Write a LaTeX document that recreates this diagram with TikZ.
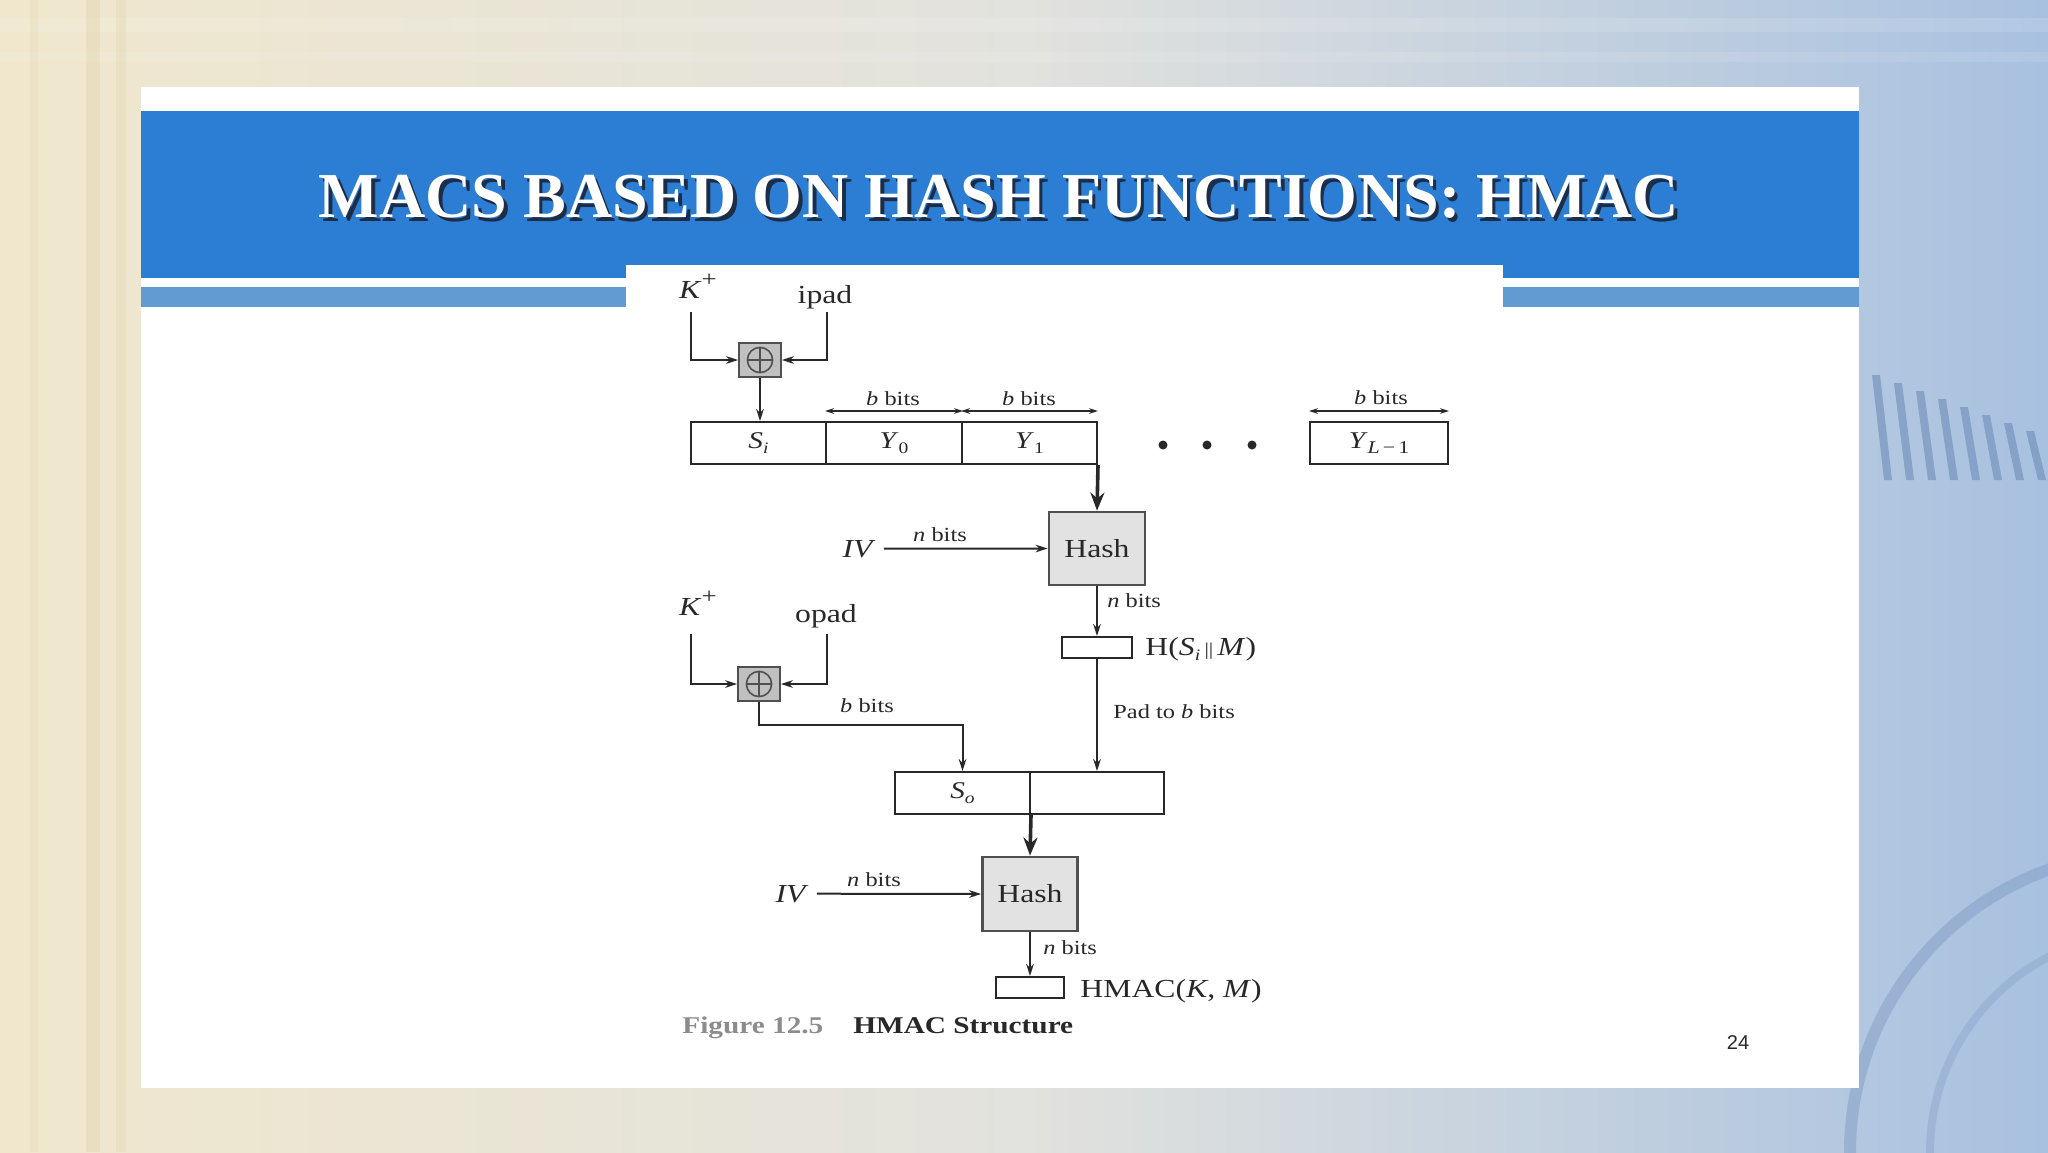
\documentclass[tikz,border=0pt]{standalone}
\usepackage{fontspec}
\setmainfont{Liberation Serif}
\newfontfamily\df{Liberation Serif}[FakeStretch=1.22]
\newfontfamily\sansf{Liberation Sans}
\usetikzlibrary{arrows.meta,calc}
\definecolor{bgL}{RGB}{240,231,205}
\definecolor{bgM}{RGB}{226,226,222}
\definecolor{bgR}{RGB}{168,193,224}
\definecolor{bandblue}{RGB}{43,126,212}
\definecolor{stripeblue}{RGB}{98,154,210}
\definecolor{ink}{RGB}{40,40,40}
\definecolor{hashfill}{RGB}{226,226,226}
\definecolor{hashline}{RGB}{80,80,80}
\definecolor{xorfill}{RGB}{192,192,192}
\definecolor{figgray}{RGB}{140,140,140}
\definecolor{shadowc}{RGB}{30,45,70}
\definecolor{decobeige}{RGB}{222,205,160}
\definecolor{decoblue}{RGB}{110,140,185}
\newcommand\lowtxt[2]{\raisebox{-0.22em}{\fontsize{#1}{#1}\selectfont #2}}
\newcommand\hightxt[2]{\raisebox{0.45em}{\fontsize{#1}{#1}\selectfont #2}}
\begin{document}
\begin{tikzpicture}[x=0.5pt,y=-0.5pt,
  cell/.style={draw=ink, line width=1pt, minimum height=21pt, inner sep=0pt, text=ink, font=\df\fontsize{12}{12}\selectfont},
  hashbox/.style={draw=hashline, fill=hashfill, line width=1.4pt, inner sep=0pt, text=ink, font=\df\fontsize{13}{13}\selectfont},
  xorbox/.style={draw=hashline, fill=xorfill, line width=0.9pt, minimum width=21pt, minimum height=17pt, inner sep=0pt},
  outbox/.style={draw=ink, line width=1pt, minimum height=10.5pt, inner sep=0pt},
  lbl/.style={text=ink, inner sep=0pt, font=\df\fontsize{13}{13}\selectfont},
  smalllbl/.style={text=ink, inner sep=0pt, font=\df\fontsize{10}{10}\selectfont},
  conn/.style={draw=ink, line width=1pt, -{Stealth[length=6pt,width=3.8pt]}},
  thickconn/.style={draw=ink, line width=1.8pt, -{Stealth[length=9pt,width=7pt]}},
  dimline/.style={draw=ink, line width=0.7pt, {Stealth[length=4.5pt,width=2.8pt]}-{Stealth[length=4.5pt,width=2.8pt]}},
  dotnode/.style={circle, fill=ink, minimum size=4.5pt, inner sep=0pt}
]
\useasboundingbox (0,0) rectangle (2048,1152);
% ---------- background ----------
\shade[left color=bgL, right color=bgR, middle color=bgM] (0,0) rectangle (2048,1152);
\fill[white, opacity=0.12] (0,18) rectangle (2048,32);
\fill[white, opacity=0.1] (0,52) rectangle (2048,62);
\fill[decobeige, opacity=0.3] (86,0) rectangle (100,1152);
\fill[decobeige, opacity=0.25] (116,0) rectangle (126,1152);
\fill[decobeige, opacity=0.2] (30,0) rectangle (38,1152);
\foreach \i in {0,...,7} {
  \fill[decoblue, opacity=0.6] (1872+22*\i,375+8*\i) -- (1880+22*\i,375+8*\i) -- (1892+22*\i,480) -- (1884+22*\i,480) -- cycle;
}
\draw[decoblue, opacity=0.35, line width=6pt] (2150,1152) circle[radius=300];
\draw[decoblue, opacity=0.25, line width=4pt] (2150,1152) circle[radius=220];
% ---------- slide panel ----------
\fill[white] (141,87) rectangle (1859,1088);
\fill[bandblue] (141,111) rectangle (1859,278);
\fill[stripeblue] (141,287) rectangle (1859,307);
\fill[white] (626,265) rectangle (1503,320);
% title
\node[text=shadowc, font=\bfseries\fontsize{32}{32}\selectfont] at (1002.5,200.5) {MACS BASED ON HASH FUNCTIONS: HMAC};
\node[text=white, font=\bfseries\fontsize{32}{32}\selectfont] (title) at (999,197) {MACS BASED ON HASH FUNCTIONS: HMAC};
% ---------- inner part ----------
\node[lbl, anchor=base] (kp1) at (698,298) {\textit{K}\hightxt{11}{+}};
\node[lbl, anchor=base] (ipad1) at (825,303) {ipad};
\node[xorbox] (xor1) at (760,360) {};
\draw[hashline, line width=0.8pt] (xor1.center) circle[radius=6.3pt];
\draw[hashline, line width=0.8pt] ($(xor1.center)+(-6.3pt,0)$) -- ($(xor1.center)+(6.3pt,0)$);
\draw[hashline, line width=0.8pt] ($(xor1.center)+(0,-6.3pt)$) -- ($(xor1.center)+(0,6.3pt)$);
\coordinate (k1s) at (691,312);
\coordinate (i1s) at (827,312);
\draw[conn] (k1s) |- (xor1.west);
\draw[conn] (i1s) |- (xor1.east);
% message blocks
\node[cell, minimum width=67.5pt] (Si) at (758.5,443) {\textit{S}\lowtxt{8}{\textit{i}}};
\node[cell, minimum width=68pt] (Y0) at (894,443) {\textit{Y}\lowtxt{8}{0}};
\node[cell, minimum width=67.5pt] (Y1) at (1029.5,443) {\textit{Y}\lowtxt{8}{1}};
\node[cell, minimum width=69pt] (YL) at (1379,443) {\textit{Y}\lowtxt{9}{\textit{L}\,−\,1}};
\draw[conn] (xor1.south) -- (xor1.south |- Si.north);
\node[dotnode] (d1) at (1163,445) {};
\node[dotnode] (d2) at (1207,445) {};
\node[dotnode] (d3) at (1252,445) {};
% b bits dimension lines
\draw[dimline] ($(Y0.north west)+(0,-10)$) -- ($(Y0.north east)+(0,-10)$);
\draw[dimline] ($(Y1.north west)+(0,-10)$) -- ($(Y1.north east)+(0,-10)$);
\draw[dimline] ($(YL.north west)+(0,-10)$) -- ($(YL.north east)+(0,-10)$);
\node[smalllbl, anchor=base] (bb0) at (893,405) {\textit{b} bits};
\node[smalllbl, anchor=base] (bb1) at (1029,405) {\textit{b} bits};
\node[smalllbl, anchor=base] (bbL) at (1381,404) {\textit{b} bits};
% first hash
\node[hashbox, minimum width=48pt, minimum height=36.5pt] (hash1) at (1097,548.5) {Hash};
\draw[thickconn] (Y1.south east) -- (hash1.north);
\node[lbl, anchor=base] (iv1) at (859,557) {\textit{IV}};
\draw[conn] (iv1.east) ++(8,0) coordinate (iv1s) (iv1s) -- (hash1.west);
\node[smalllbl, anchor=base] (nb1) at (940,541) {\textit{n} bits};
\node[outbox, minimum width=35pt] (hs) at (1097,647.5) {};
\draw[conn] (hash1.south) -- (hs.north);
\node[smalllbl, anchor=base west] (nb2) at (1107,607) {\textit{n} bits};
\node[lbl, anchor=base west] (hsl) at (1145,655) {H(\textit{S}\lowtxt{8}{\textit{i}}\,{\fontsize{9}{9}\selectfont||}\,\textit{M})};
% second stage
\node[lbl, anchor=base] (kp2) at (698,615) {\textit{K}\hightxt{11}{+}};
\node[lbl, anchor=base] (opad) at (826,622) {opad};
\node[xorbox] (xor2) at (759,684) {};
\draw[hashline, line width=0.8pt] (xor2.center) circle[radius=6.3pt];
\draw[hashline, line width=0.8pt] ($(xor2.center)+(-6.3pt,0)$) -- ($(xor2.center)+(6.3pt,0)$);
\draw[hashline, line width=0.8pt] ($(xor2.center)+(0,-6.3pt)$) -- ($(xor2.center)+(0,6.3pt)$);
\coordinate (k2s) at (691,634);
\coordinate (o2s) at (827,634);
\draw[conn] (k2s) |- (xor2.west);
\draw[conn] (o2s) |- (xor2.east);
\node[cell, minimum width=67.5pt] (So) at (962.5,793) {\textit{S}\lowtxt{8}{\textit{o}}};
\node[cell, minimum width=67pt] (Hpad) at (1097,793) {};
\draw[conn] (xor2.south) |- (So.north |- 0,725) -- (So.north);
\node[smalllbl, anchor=base] (bb2) at (867,712) {\textit{b} bits};
\draw[conn] (hs.south) -- (Hpad.north);
\node[smalllbl, anchor=base west] (padl) at (1113,718) {Pad to \textit{b} bits};
% second hash
\node[hashbox, minimum width=47.5pt, minimum height=37pt] (hash2) at (1030,894) {Hash};
\draw[thickconn] (So.south east) -- (hash2.north);
\node[lbl, anchor=base] (iv2) at (792,902) {\textit{IV}};
\draw[conn] (iv2.east) ++(8,0) coordinate (iv2s) (iv2s) -- (hash2.west);
\node[smalllbl, anchor=base] (nb3) at (874,886) {\textit{n} bits};
\node[outbox, minimum width=34pt] (hm) at (1030,987.5) {};
\draw[conn] (hash2.south) -- (hm.north);
\node[smalllbl, anchor=base west] (nb4) at (1043,954) {\textit{n} bits};
\node[lbl, anchor=base west] (hml) at (1080,997) {HMAC(\textit{K}, \textit{M})};
% caption
\node[anchor=base west, inner sep=0pt, text=figgray, font=\df\bfseries\fontsize{12}{12}\selectfont] (fig) at (682,1033) {Figure 12.5};
\node[anchor=base west, inner sep=0pt, text=ink, font=\df\bfseries\fontsize{12}{12}\selectfont] (figt) at (853,1033) {HMAC Structure};
% page number
\node[inner sep=0pt, text=ink, font=\sansf\fontsize{10}{10}\selectfont] (pg) at (1738,1042) {24};
\end{tikzpicture}
\end{document}
